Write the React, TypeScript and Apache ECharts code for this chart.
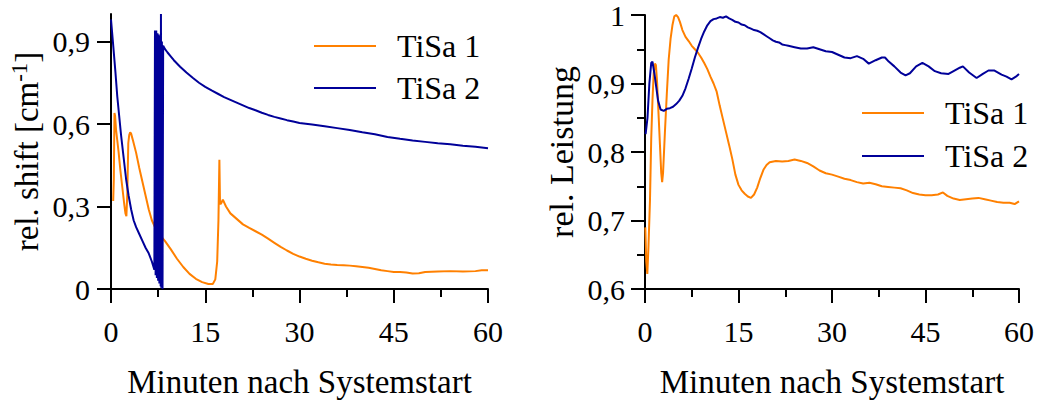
import React, { useEffect, useRef } from "react";
import * as echarts from "echarts";

// ---- Data (minutes, relative value) ----
const seriesNames = ["TiSa 1", "TiSa 2"];
const xTicks = [0, 15, 30, 45, 60];
const leftYTicks = [0, 0.3, 0.6, 0.9];
const rightYTicks = [0.6, 0.7, 0.8, 0.9, 1];

// Left panel: rel. shift [cm^-1]
const shiftTiSa1: [number, number][] = [
  [0.35, 0.32], [0.45, 0.4], [0.55, 0.64], [0.65, 0.63], [0.8, 0.58], [1.0, 0.54], [1.2, 0.5],
  [1.5, 0.43], [1.8, 0.37], [2.1, 0.31], [2.3, 0.275], [2.45, 0.265], [2.6, 0.35], [2.75, 0.53],
  [2.9, 0.56], [3.05, 0.57], [3.2, 0.565], [3.5, 0.54], [4.0, 0.495], [4.5, 0.44], [5.0, 0.39],
  [5.5, 0.34], [6.0, 0.29], [6.5, 0.25], [7.0, 0.225], [7.5, 0.21], [8.0, 0.19], [8.6, 0.174],
  [9.5, 0.145], [10.5, 0.11], [11.5, 0.08], [12.5, 0.055], [13.5, 0.037], [14.5, 0.025],
  [15.5, 0.018], [16.2, 0.018], [16.6, 0.035], [16.9, 0.1], [17.1, 0.25], [17.25, 0.47],
  [17.35, 0.31], [17.5, 0.31], [17.8, 0.325], [18.3, 0.3], [19, 0.275], [20, 0.255], [21, 0.235],
  [22, 0.222], [23, 0.21], [24, 0.198], [25, 0.183], [26, 0.168], [27, 0.153], [28, 0.14],
  [29, 0.128], [30, 0.118], [31, 0.11], [32, 0.103], [33, 0.097], [34, 0.092], [35, 0.089],
  [36, 0.087], [37, 0.086], [38, 0.085], [39, 0.083], [40, 0.08], [41, 0.077], [42, 0.073],
  [43, 0.068], [44, 0.065], [45, 0.062], [46, 0.062], [47, 0.06], [48, 0.056], [49, 0.057],
  [50, 0.062], [51, 0.063], [52, 0.064], [54, 0.065], [56, 0.064], [58, 0.065], [59, 0.068],
  [60, 0.068],
];

const shiftTiSa2: [number, number][] = [
  [0, 0.98], [0.3, 0.9], [0.7, 0.79], [1.0, 0.7], [1.3, 0.63], [1.6, 0.56], [2.0, 0.48],
  [2.4, 0.4], [2.8, 0.34], [3.2, 0.29], [3.6, 0.25], [4.0, 0.225], [4.5, 0.2], [5.0, 0.175],
  [5.5, 0.15], [6.0, 0.13], [6.5, 0.1], [6.9, 0.07],
  // fast oscillation while the system settles
  [7.0, 0.94], [7.1, 0.05], [7.2, 0.94], [7.3, 0.04], [7.4, 0.93], [7.5, 0.03], [7.6, 0.925],
  [7.7, 0.02], [7.8, 0.92], [7.9, 0.01], [7.95, 1.0], [8.0, 0.005], [8.1, 0.9], [8.2, 0.0],
  [8.3, 0.885],
  [8.6, 0.872], [9, 0.86], [9.5, 0.846], [10, 0.832], [11, 0.808], [12, 0.787], [13, 0.768],
  [14, 0.75], [15, 0.735], [16, 0.722], [17, 0.71], [18, 0.698], [19, 0.688], [20, 0.678],
  [21, 0.668], [22, 0.658], [23, 0.65], [24, 0.641], [25, 0.633], [26, 0.626], [27, 0.62],
  [28, 0.614], [29, 0.609], [30, 0.604], [32, 0.598], [34, 0.592], [36, 0.585], [38, 0.578],
  [40, 0.57], [42, 0.563], [44, 0.553], [46, 0.546], [48, 0.54], [50, 0.535], [52, 0.53],
  [54, 0.526], [56, 0.521], [58, 0.517], [60, 0.512],
];

// Right panel: rel. Leistung
const powerTiSa1: [number, number][] = [
  [0.05, 0.69], [0.2, 0.64], [0.37, 0.622], [0.55, 0.66], [0.8, 0.73], [1.0, 0.82], [1.2, 0.876],
  [1.4, 0.915], [1.6, 0.929], [1.75, 0.927], [1.95, 0.9], [2.2, 0.85], [2.4, 0.81], [2.6, 0.77],
  [2.75, 0.756], [2.9, 0.77], [3.2, 0.83], [3.5, 0.885], [3.8, 0.935], [4.1, 0.965], [4.4, 0.985],
  [4.7, 0.998], [5.0, 1.0], [5.3, 0.997], [5.6, 0.99], [6.0, 0.978], [6.5, 0.968], [7.0, 0.962],
  [7.5, 0.955], [8.0, 0.95], [8.5, 0.945], [9.0, 0.938], [9.5, 0.93], [10.0, 0.921], [10.5, 0.91],
  [11.0, 0.9], [11.5, 0.888], [12.0, 0.867], [12.5, 0.848], [13.0, 0.829], [13.5, 0.81],
  [14.0, 0.79], [14.5, 0.767], [15.0, 0.752], [15.5, 0.744], [16.0, 0.739], [16.5, 0.735],
  [17.0, 0.733], [17.5, 0.738], [18.0, 0.748], [18.5, 0.762], [19.0, 0.774], [19.5, 0.781],
  [20.0, 0.785], [21, 0.787], [22, 0.786], [23, 0.787], [24, 0.789], [25, 0.787], [26, 0.784],
  [27, 0.779], [28, 0.773], [29, 0.769], [30, 0.767], [31, 0.764], [32, 0.761], [33, 0.759],
  [34, 0.756], [35, 0.754], [36, 0.755], [37, 0.753], [38, 0.75], [39, 0.749], [40, 0.748],
  [41, 0.747], [42, 0.744], [43, 0.74], [44, 0.738], [45, 0.737], [46, 0.737], [47, 0.738],
  [47.8, 0.741], [48.5, 0.736], [49.5, 0.732], [50.5, 0.73], [51.5, 0.731], [52.5, 0.732],
  [53.5, 0.733], [54.5, 0.731], [55.5, 0.729], [56.5, 0.727], [57.5, 0.726], [58.5, 0.726],
  [59.3, 0.724], [60, 0.728],
];

const powerTiSa2: [number, number][] = [
  [0.1, 0.826], [0.4, 0.85], [0.7, 0.9], [1.0, 0.93], [1.2, 0.932], [1.5, 0.915], [1.8, 0.895],
  [2.1, 0.875], [2.5, 0.862], [3.0, 0.86], [3.5, 0.863], [4.0, 0.864], [4.5, 0.866], [5.0, 0.87],
  [5.5, 0.875], [6.0, 0.882], [6.5, 0.893], [7.0, 0.907], [7.5, 0.922], [8.0, 0.938],
  [8.5, 0.952], [9.0, 0.965], [9.5, 0.976], [10.0, 0.985], [10.5, 0.991], [11.0, 0.994],
  [11.5, 0.995], [12.0, 0.997], [12.5, 0.996], [13.0, 0.998], [13.5, 0.995], [14.0, 0.993],
  [14.5, 0.99], [15.0, 0.989], [15.5, 0.986], [16.0, 0.985], [16.5, 0.982], [17.0, 0.98],
  [17.5, 0.978], [18.0, 0.977], [18.5, 0.975], [19.0, 0.972], [19.5, 0.969], [20.0, 0.966],
  [20.5, 0.963], [21.0, 0.961], [21.5, 0.96], [22.0, 0.957], [22.5, 0.956], [23.0, 0.955],
  [24.0, 0.953], [25.0, 0.951], [26.0, 0.951], [27.0, 0.953], [28.0, 0.95], [29.0, 0.947],
  [30.0, 0.946], [31.0, 0.942], [32.0, 0.938], [33.0, 0.937], [34.0, 0.94], [35.0, 0.936],
  [35.9, 0.929], [37.0, 0.934], [38.0, 0.938], [38.5, 0.938], [39.1, 0.932], [40.0, 0.925],
  [41.0, 0.916], [41.8, 0.912], [42.5, 0.915], [43.5, 0.925], [44.5, 0.93], [45.5, 0.925],
  [46.5, 0.918], [47.5, 0.915], [48.7, 0.914], [49.5, 0.918], [50.5, 0.923], [51.0, 0.925],
  [52.0, 0.916], [53.2, 0.908], [54.2, 0.914], [55.1, 0.919], [56.0, 0.919], [57.2, 0.913],
  [58.0, 0.91], [58.8, 0.906], [59.5, 0.91], [60, 0.914],
];

const COLORS = ["#FF8000", "#000099"];
const FONT = "Liberation Serif";

const fmt = (v: number) => String(Math.round(v * 10) / 10).replace(".", ",");

function xAxisCfg(gridIndex: number) {
  return {
    gridIndex,
    type: "value",
    min: 0,
    max: 60,
    interval: 15,
    axisLine: { show: true, lineStyle: { color: "#000", width: 2 } },
    axisTick: { show: true, length: 14, customValues: xTicks, lineStyle: { color: "#000", width: 2 } },
    minorTick: { show: true, splitNumber: 2, length: 8, lineStyle: { color: "#000", width: 2 } },
    splitLine: { show: false },
    axisLabel: { customValues: xTicks, margin: 27, fontSize: 30, color: "#000", fontFamily: FONT, formatter: (v: number) => String(v) },
    name: "Minuten nach Systemstart",
    nameLocation: "middle",
    nameGap: 76,
    nameTextStyle: { fontSize: 33, color: "#000", fontFamily: FONT },
  };
}

function legendCfg(left: number, top: number, gap: number) {
  return {
    data: seriesNames,
    orient: "vertical",
    left,
    top,
    padding: 0,
    itemGap: gap,
    icon: "rect",
    itemWidth: 62,
    itemHeight: 2,
    textStyle: { fontSize: 32, lineHeight: 32, color: "#000", fontFamily: FONT, padding: [0, 0, 0, 16] },
    selectedMode: false,
  };
}

export default function App() {
  const ref = useRef<HTMLDivElement>(null);
  useEffect(() => {
    document.body.style.margin = "0";
    if (!ref.current) return;
    const chart = echarts.init(ref.current, undefined, { renderer: "svg" });
    const lineSeries = (name: string, idx: number, data: [number, number][], color: string) => ({
      name,
      type: "line",
      xAxisIndex: idx,
      yAxisIndex: idx,
      data,
      symbol: "none",
      showSymbol: false,
      clip: true,
      lineStyle: { color, width: 2 },
      itemStyle: { color },
    });
    chart.setOption({
      animation: false,
      backgroundColor: "#fff",
      grid: [
        { left: 111, top: 14, width: 377, height: 278 },
        { left: 645, top: 14, width: 376, height: 278 },
      ],
      xAxis: [xAxisCfg(0), xAxisCfg(1)],
      yAxis: [
        {
          gridIndex: 0,
          type: "value",
          min: 0,
          max: 1,
          axisLine: { show: true, lineStyle: { color: "#000", width: 2 } },
          axisTick: { show: true, length: 14, customValues: leftYTicks, lineStyle: { color: "#000", width: 2 } },
          splitLine: { show: false },
          axisLabel: { customValues: leftYTicks, margin: 21, fontSize: 30, color: "#000", fontFamily: FONT, formatter: fmt },
          name: "rel. shift [cm{sup|-1}]",
          nameLocation: "middle",
          nameGap: 66,
          nameTextStyle: {
            fontSize: 33,
            color: "#000",
            fontFamily: FONT,
            rich: { sup: { fontSize: 23, fontFamily: FONT, color: "#000", verticalAlign: "top", padding: [0, 0, 14, 0] } },
          },
        },
        {
          gridIndex: 1,
          type: "value",
          min: 0.6,
          max: 1,
          interval: 0.1,
          axisLine: { show: true, lineStyle: { color: "#000", width: 2 } },
          axisTick: { show: true, length: 14, lineStyle: { color: "#000", width: 2 } },
          minorTick: { show: true, splitNumber: 2, length: 8, lineStyle: { color: "#000", width: 2 } },
          splitLine: { show: false },
          axisLabel: { customValues: rightYTicks, margin: 20, fontSize: 30, color: "#000", fontFamily: FONT, formatter: fmt },
          name: "rel. Leistung",
          nameLocation: "middle",
          nameGap: 67,
          nameTextStyle: { fontSize: 34, color: "#000", fontFamily: FONT },
        },
      ],
      legend: [legendCfg(314, 30, 10), legendCfg(862, 97, 11)],
      series: [
        lineSeries(seriesNames[0], 0, shiftTiSa1, COLORS[0]),
        lineSeries(seriesNames[1], 0, shiftTiSa2, COLORS[1]),
        lineSeries(seriesNames[0], 1, powerTiSa1, COLORS[0]),
        lineSeries(seriesNames[1], 1, powerTiSa2, COLORS[1]),
      ],
    });
    return () => chart.dispose();
  }, []);
  return <div ref={ref} style={{ position: "fixed", left: 0, top: 0, width: 1037, height: 403 }} />;
}
